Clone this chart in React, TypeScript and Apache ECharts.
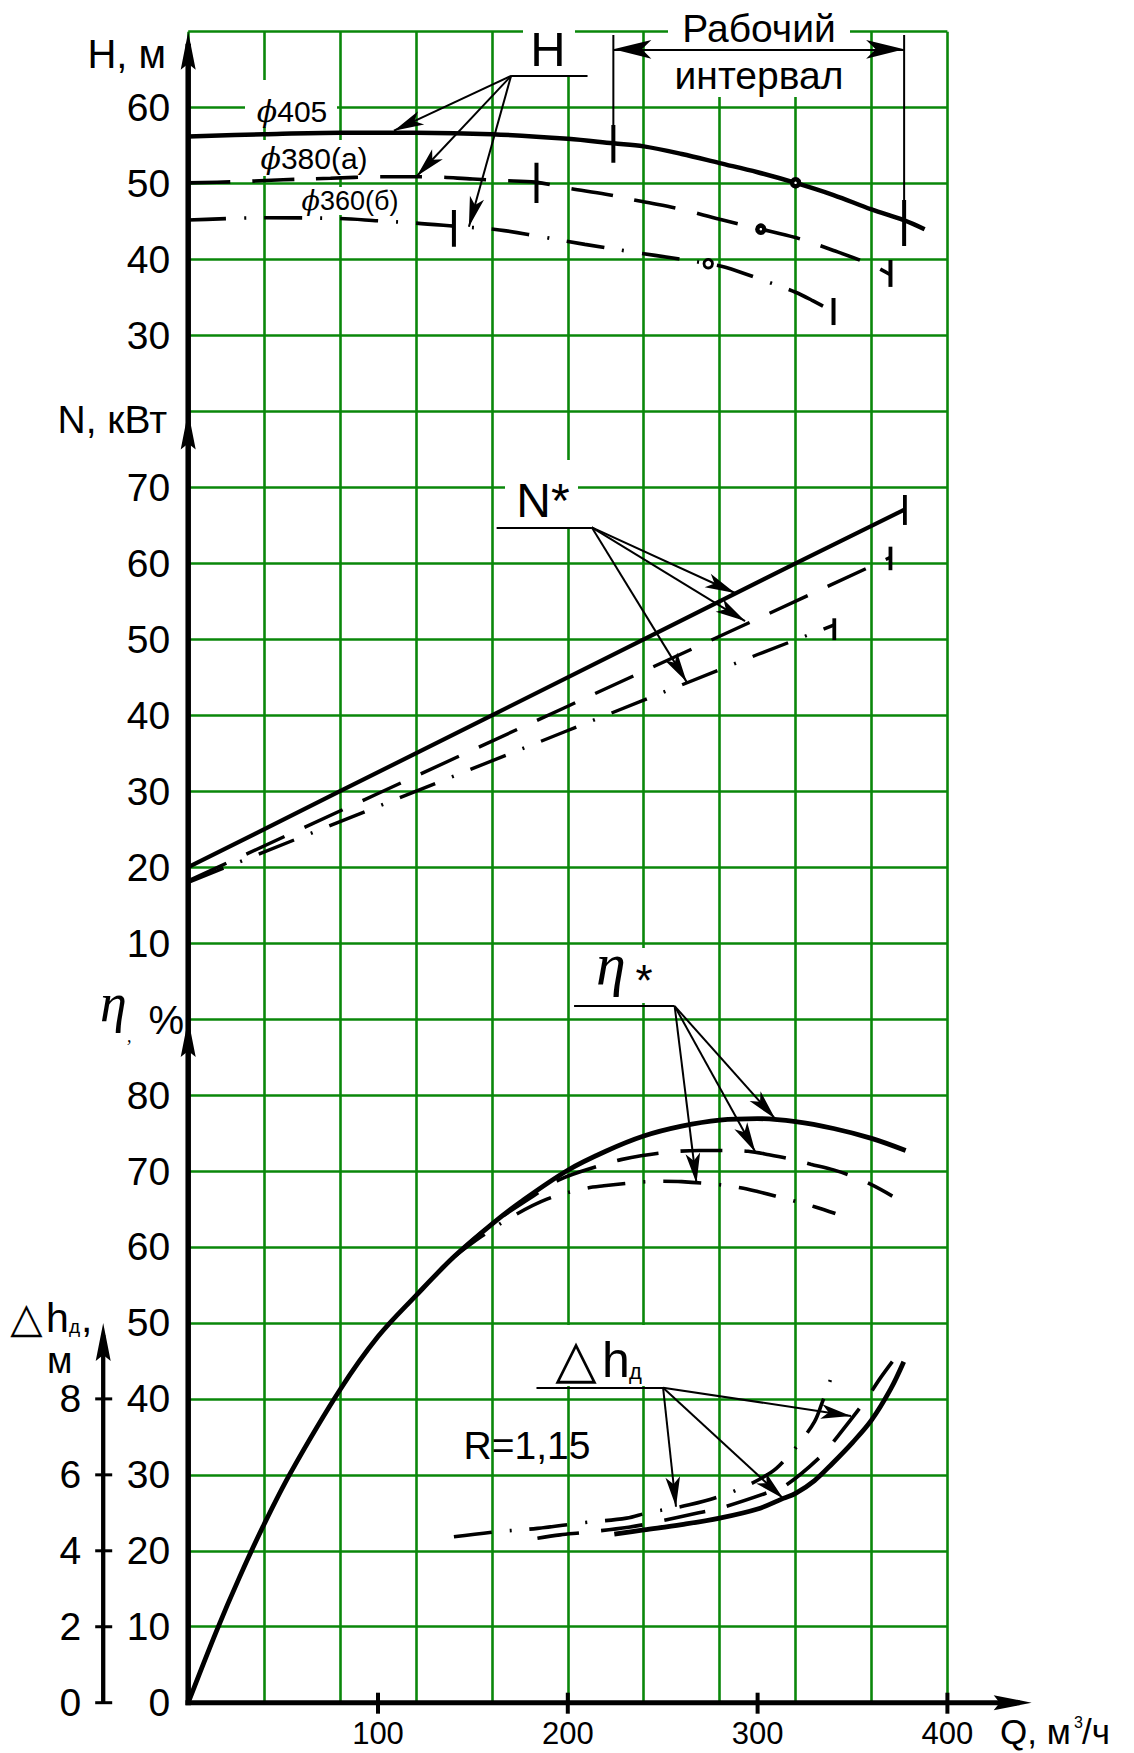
import { useEffect, useRef } from 'react';
import * as echarts from 'echarts';

// ---------------- data ----------------
const Q_TICKS = [100, 200, 300, 400];
const H_TICKS = [30, 40, 50, 60];
const N_TICKS = [10, 20, 30, 40, 50, 60, 70];
const ETA_TICKS = [0, 10, 20, 30, 40, 50, 60, 70, 80];
const DH_TICKS = [0, 2, 4, 6, 8];

// H(Q), m
const H405_Q = [0, 40, 80, 120, 160, 200, 224, 240, 260, 280, 300, 320, 340, 360, 377, 388];
const H405_V = [56.2, 56.5, 56.7, 56.7, 56.5, 55.9, 55.3, 54.9, 53.9, 52.7, 51.5, 50.1, 48.5, 46.6, 45.2, 44.0];
const H380_Q = [0, 25, 50, 75, 100, 125, 150, 165, 183, 200, 220, 240, 260, 280, 302, 320, 340, 360, 370];
const H380_V = [50.1, 50.25, 50.5, 50.7, 50.9, 50.9, 50.6, 50.4, 50.2, 49.4, 48.6, 47.6, 46.6, 45.3, 44.0, 42.9, 41.2, 39.3, 38.0];
const H360_Q = [0, 40, 80, 100, 120, 140, 164, 185, 209, 234, 258, 274, 283, 306, 320, 329, 340];
const H360_V = [45.2, 45.5, 45.4, 45.1, 44.8, 44.4, 43.9, 43.05, 42.0, 41.0, 40.1, 39.45, 39.0, 37.0, 35.7, 34.6, 33.1];

// marked points on H curves
const H_DOTS = [[320, 50.1], [301.7, 44.0]];
const H_RING = [[274, 39.45]];

// working interval (φ405), H units
const WORK_ARROW = [[224, 67.68], [377.2, 67.68]];
const WORK_EXT = [[224, 69.57, 57.72], [377.2, 69.57, 47.84]]; // [Q, from, to]
const H_MARKS = [[224, 57.72, 52.75], [377.2, 47.84, 41.78], [183.5, 52.75, 47.45], [370, 39.94, 36.4], [140, 46.52, 41.7], [340, 34.94, 31.38]];

// N(Q), kW
const N405_Q = [0, 80, 160, 240, 320, 377.6];
const N405_V = [20, 30, 40, 50, 60, 67.1];
const N380_Q = [0, 100, 200, 300, 370];
const N380_V = [18.2, 29.7, 41.2, 52.7, 60.8];
const N360_Q = [0, 100, 200, 300, 340.4];
const N360_V = [18.0, 28.0, 38.0, 48.0, 51.9];
const N_MARKS = [[377.6, 69.0, 65.06], [370, 62.2, 59.1], [340.4, 52.77, 49.9]];

// η(Q), %
const E405_Q = [0, 15, 27, 40, 54, 80, 100, 120, 140, 160, 175, 200, 220, 240, 260, 280, 300, 320, 340, 360, 378];
const E405_V = [0, 9.5, 16.5, 23.5, 30.3, 41.2, 48.2, 53.6, 58.7, 63.0, 65.9, 70.1, 72.6, 74.6, 75.9, 76.7, 76.9, 76.5, 75.6, 74.3, 72.7];
const E380_Q = [140, 160, 180, 196, 218, 228, 250, 269, 285, 295, 306, 318, 328, 340, 350, 360, 371];
const E380_V = [58.7, 63.0, 66.4, 68.9, 70.8, 71.5, 72.4, 72.7, 72.7, 72.6, 72.15, 71.55, 70.9, 70.15, 69.3, 68.2, 66.7];
const E360_Q = [140, 154, 170, 189, 209, 219, 239, 250, 260, 280, 291, 300, 311, 320, 330, 341];
const E360_V = [58.7, 61.3, 63.9, 66.3, 67.7, 68.05, 68.55, 68.65, 68.6, 68.2, 67.8, 67.3, 66.6, 66.0, 65.3, 64.4];

// Δh(Q), m
const D405_Q = [224.5, 240, 260, 280, 300, 313.5, 320, 330, 339.4, 350, 360, 370, 377];
const D405_V = [4.44, 4.55, 4.69, 4.86, 5.1, 5.38, 5.51, 5.85, 6.3, 6.85, 7.44, 8.25, 8.98];
const D380_Q = [184, 196, 208, 232, 245, 269, 280, 304, 315, 334, 342, 357, 364, 371];
const D380_V = [4.33, 4.42, 4.48, 4.62, 4.74, 5.0, 5.12, 5.51, 5.73, 6.52, 7.0, 7.97, 8.5, 8.98];
const D360_Q = [140, 162, 184, 208, 231, 242, 264, 287, 307, 316, 323, 330, 334, 338, 341];
const D360_V = [4.37, 4.5, 4.59, 4.74, 4.86, 5.0, 5.21, 5.56, 6.06, 6.48, 6.9, 7.4, 7.9, 8.45, 8.95];

// leader lines (data coordinates of each section)
const H_LEADER_FROM = [170.1, 64.17];
const H_LEADER_TIPS = [[108.4, 56.97], [120.5, 51.0], [147.9, 44.33]];
const H_UNDERLINE_TO = 210.4;
const N_LEADER_FROM = [212.6, 64.75];
const N_LEADER_TIPS = [[288.1, 56.1], [293.4, 52.4], [262.6, 44.4]];
const N_UNDERLINE_TO = 162.5;
const E_LEADER_FROM = [256.3, 91.71];
const E_LEADER_TIPS = [[309.2, 76.9], [298.8, 72.5], [267.8, 68.4]];
const E_UNDERLINE_TO = 203.3;
const D_LEADER_FROM = [250.2, 8.295];
const D_LEADER_TIPS = [[349.2, 7.55], [313.5, 5.38], [257, 5.16]];
const D_UNDERLINE_TO = 183.5;

// ---------------- styling ----------------
const GREEN = '#0a870a';
const SANS = 'Liberation Sans';
const SERIF = 'Liberation Serif';
const DASH = [42, 22];
const DASHDOT = [38, 18, 2, 18];
const Q_ARROW_END = 444.4;
const DH_OFFSET = 85;

const zip = (qs: number[], vs: number[]) => qs.map((q, i) => [q, vs[i]]);

function curve(qs: number[], vs: number[], yi: number, width: number, type: any, extra: any = {}) {
  return {
    type: 'line', xAxisIndex: 0, yAxisIndex: yi, data: zip(qs, vs), symbol: 'none',
    smooth: 0.35, silent: true, z: 5,
    lineStyle: { color: '#000', width, type, cap: 'butt' }, ...extra,
  };
}

function seg(q: number, a: number, b: number, yi: number, width: number) {
  return {
    type: 'line', xAxisIndex: 0, yAxisIndex: yi, data: [[q, a], [q, b]], symbol: 'none',
    silent: true, z: 6, lineStyle: { color: '#000', width, type: 'solid', cap: 'butt' },
  };
}

function leaders(from: number[], tips: number[][], lineEnd: number) {
  return {
    silent: true,
    symbol: ['none', 'arrow'],
    symbolSize: [11, 30],
    label: { show: false },
    emphasis: { disabled: true },
    lineStyle: { color: '#000', width: 2, type: 'solid' },
    data: [
      ...tips.map((t) => [{ coord: from }, { coord: t }]),
      [{ coord: from, symbol: 'none' }, { coord: [lineEnd, from[1]], symbol: 'none' }],
    ],
  };
}

function yAxis(min: number, max: number, interval: number, ticks: number[], extra: any = {}) {
  return {
    type: 'value', min, max, interval, position: 'left',
    axisLine: { show: false }, axisTick: { show: false }, splitLine: { show: false },
    axisLabel: {
      color: '#000', fontSize: 39, fontFamily: SANS, margin: 18,
      formatter: (v: number) => (ticks.includes(v) ? String(v) : ''),
    },
    ...extra,
  };
}

function buildOption(): any {
  const dotStyle = { color: '#fff', borderColor: '#000', opacity: 1 };
  const series: any[] = [
    // H
    curve(H405_Q, H405_V, 0, 4.5, 'solid', { markLine: leaders(H_LEADER_FROM, H_LEADER_TIPS, H_UNDERLINE_TO) }),
    curve(H380_Q, H380_V, 0, 3.6, DASH),
    curve(H360_Q, H360_V, 0, 3.6, DASHDOT),
    {
      type: 'line', xAxisIndex: 0, yAxisIndex: 0, data: [], silent: true,
      markLine: {
        silent: true, symbol: ['arrow', 'arrow'], symbolSize: [14, 38], label: { show: false },
        lineStyle: { color: '#000', width: 2, type: 'solid' },
        data: [[{ coord: WORK_ARROW[0] }, { coord: WORK_ARROW[1] }]],
      },
    },
    ...WORK_EXT.map(([q, a, b]) => seg(q, a, b, 0, 2)),
    ...H_MARKS.map(([q, a, b]) => seg(q, a, b, 0, 4)),
    {
      type: 'scatter', xAxisIndex: 0, yAxisIndex: 0, data: H_DOTS, symbol: 'circle', symbolSize: 7,
      itemStyle: { ...dotStyle, borderWidth: 4.5 }, z: 7, silent: true,
    },
    {
      type: 'scatter', xAxisIndex: 0, yAxisIndex: 0, data: H_RING, symbol: 'circle', symbolSize: 8.5,
      itemStyle: { ...dotStyle, borderWidth: 2.8 }, z: 7, silent: true,
    },
    // N
    curve(N405_Q, N405_V, 1, 4.2, 'solid', { smooth: false, markLine: leaders(N_LEADER_FROM, N_LEADER_TIPS, N_UNDERLINE_TO) }),
    curve(N380_Q, N380_V, 1, 3.4, DASH, { smooth: false }),
    curve(N360_Q, N360_V, 1, 3.4, DASHDOT, { smooth: false }),
    ...N_MARKS.map(([q, a, b]) => seg(q, a, b, 1, 3.8)),
    // η
    curve(E405_Q, E405_V, 2, 4.8, 'solid', { markLine: leaders(E_LEADER_FROM, E_LEADER_TIPS, E_UNDERLINE_TO) }),
    curve(E380_Q, E380_V, 2, 3.6, DASH),
    curve(E360_Q, E360_V, 2, 3.6, DASHDOT),
    // Δh
    curve(D405_Q, D405_V, 3, 4.8, 'solid', { markLine: leaders(D_LEADER_FROM, D_LEADER_TIPS, D_UNDERLINE_TO) }),
    curve(D380_Q, D380_V, 3, 3.6, DASH),
    curve(D360_Q, D360_V, 3, 3.6, DASHDOT),
  ];

  return {
    animation: false,
    backgroundColor: '#fff',
    grid: { left: 188.2, top: 31.7, width: 759.2, height: 1671, containLabel: false },
    xAxis: [
      {
        type: 'value', min: 0, max: 400, interval: 40,
        axisLine: { show: false }, axisTick: { show: false }, axisLabel: { show: false },
        splitLine: { show: true, lineStyle: { color: GREEN, width: 2.6 } },
      },
      {
        type: 'value', min: 0, max: 400, interval: 100, position: 'bottom',
        axisLine: { show: false }, axisTick: { show: false }, splitLine: { show: false },
        axisLabel: {
          color: '#000', fontSize: 31, fontFamily: SANS, margin: 15,
          formatter: (v: number) => (Q_TICKS.includes(v) ? String(v) : ''),
        },
      },
    ],
    yAxis: [
      yAxis(-150, 70, 10, H_TICKS),
      yAxis(-90, 130, 10, N_TICKS),
      yAxis(0, 220, 10, ETA_TICKS),
      yAxis(0, 44, 2, DH_TICKS, {
        offset: DH_OFFSET,
        splitLine: { show: true, lineStyle: { color: GREEN, width: 2.6 } },
        axisLabel: {
          color: '#000', fontSize: 39, fontFamily: SANS, margin: 22,
          formatter: (v: number) => (DH_TICKS.includes(v) ? String(v) : ''),
        },
      }),
    ],
    series,
  };
}

function txt(text: string, x: number, y: number, size: number, align: string = 'center', extra: any = {}) {
  return {
    type: 'text', x, y, z: 20, silent: true,
    style: { text, fontSize: size, fontFamily: SANS, fill: '#000', align, verticalAlign: 'middle', ...extra },
  };
}
function box(x: number, y: number, w: number, h: number) {
  return { type: 'rect', z: 1, silent: true, shape: { x, y, width: w, height: h }, style: { fill: '#fff' } };
}
function ln(x1: number, y1: number, x2: number, y2: number, w: number) {
  return { type: 'line', z: 15, silent: true, shape: { x1, y1, x2, y2 }, style: { stroke: '#000', lineWidth: w } };
}
function upArrow(x: number, y: number) {
  return { type: 'polygon', z: 16, silent: true, shape: { points: [[x, y], [x - 7.5, y + 38], [x, y + 32], [x + 7.5, y + 38]] }, style: { fill: '#000' } };
}
function rightArrow(x: number, y: number) {
  return { type: 'polygon', z: 16, silent: true, shape: { points: [[x, y], [x - 38, y - 7.5], [x - 32, y], [x - 38, y + 7.5]] }, style: { fill: '#000' } };
}

export default function App() {
  const ref = useRef<HTMLDivElement>(null);
  useEffect(() => {
    if (!ref.current) return;
    const chart = echarts.init(ref.current, undefined, { renderer: 'svg' });
    chart.setOption(buildOption());
    const px = (yi: number, q: number, v: number): number[] =>
      chart.convertToPixel({ xAxisIndex: 0, yAxisIndex: yi } as any, [q, v]) as any;
    const [x0, yB] = px(2, 0, 0);
    const yH = px(0, 0, 70)[1];
    const yN = px(1, 0, 80)[1];
    const yE = px(2, 0, 90)[1];
    const yD = px(3, 0, 10)[1];
    const xTip = px(2, Q_ARROW_END, 0)[0];
    const xD = x0 - DH_OFFSET;

    const els: any[] = [
      // white label backgrounds
      box(523, 0, 52, 76),
      box(668, 0, 182, 97),
      box(245, 80, 92, 47),
      box(250, 140, 128, 36),
      box(295, 187, 110, 28),
      box(505, 460, 73, 67),
      box(590, 948, 68, 55),
      box(540, 1325, 122, 61),
      // axes
      ln(x0, yB + 2.5, x0, yH + 12, 5.5),
      upArrow(x0, yH), upArrow(x0, yN), upArrow(x0, yE),
      ln(x0 - 2.75, yB, xTip - 12, yB, 5),
      rightArrow(xTip, yB),
      ln(xD, yB, xD, yD + 12, 4.3),
      upArrow(xD, yD),
      ...Q_TICKS.map((q) => { const x = px(2, q, 0)[0]; return ln(x, yB - 10, x, yB + 11, 4); }),
      ...DH_TICKS.map((v) => { const y = px(3, 0, v)[1]; return ln(xD - 8, y, xD + 9, y, 3); }),
      // axis titles
      txt('H, м', 166, 54, 40, 'right'),
      txt('N, кВт', 167, 419, 39, 'right'),
      txt('η', 100, 1003, 54, 'left', { fontFamily: SERIF, fontStyle: 'italic' }),
      txt(',', 127, 1036, 18, 'left', { fontFamily: SERIF, fontStyle: 'italic' }),
      txt('%', 184, 1020, 40, 'right'),
      txt('△', 26.5, 1317, 42, 'center', { fontFamily: 'DejaVu Sans' }),
      txt('h', 46, 1318, 41, 'left'),
      txt('д', 69, 1326, 19, 'left'),
      txt(',', 81, 1318, 41, 'left'),
      txt('м', 47, 1360, 37, 'left'),
      txt('Q, м', 1000, 1731, 35, 'left'),
      txt('3', 1074, 1722, 16, 'left'),
      txt('/ч', 1082, 1731, 35, 'left'),
      // annotations
      txt('H', 548, 49, 49),
      txt('Рабочий', 759, 28, 39),
      txt('интервал', 759, 75, 39),
      {
        type: 'text', x: 292, y: 111, z: 20, silent: true,
        style: { text: '{p|ϕ}405', fontSize: 30, fontFamily: SANS, fill: '#000', align: 'center', verticalAlign: 'middle',
          rich: { p: { fontFamily: 'DejaVu Serif', fontStyle: 'italic', fontSize: 30 } } },
      },
      {
        type: 'text', x: 314, y: 158, z: 20, silent: true,
        style: { text: '{p|ϕ}380(а)', fontSize: 30, fontFamily: SANS, fill: '#000', align: 'center', verticalAlign: 'middle',
          rich: { p: { fontFamily: 'DejaVu Serif', fontStyle: 'italic', fontSize: 30 } } },
      },
      {
        type: 'text', x: 350, y: 200.5, z: 20, silent: true,
        style: { text: '{p|ϕ}360(б)', fontSize: 27, fontFamily: SANS, fill: '#000', align: 'center', verticalAlign: 'middle',
          rich: { p: { fontFamily: 'DejaVu Serif', fontStyle: 'italic', fontSize: 27 } } },
      },
      txt('N*', 543, 500, 48),
      txt('η', 596, 964, 60, 'left', { fontFamily: SERIF, fontStyle: 'italic' }),
      txt('*', 644, 980, 44),
      txt('△', 576, 1358, 54, 'center', { fontFamily: 'DejaVu Sans' }),
      txt('h', 602, 1359.5, 50, 'left'),
      txt('д', 629, 1371.5, 22, 'left'),
      txt('R=1,15', 527, 1445, 39),
    ];
    chart.setOption({ graphic: els });
    return () => chart.dispose();
  }, []);
  return (
    <div
      ref={ref}
      style={{ position: 'absolute', left: 0, top: 0, width: 1134, height: 1753, background: '#fff' }}
    />
  );
}
